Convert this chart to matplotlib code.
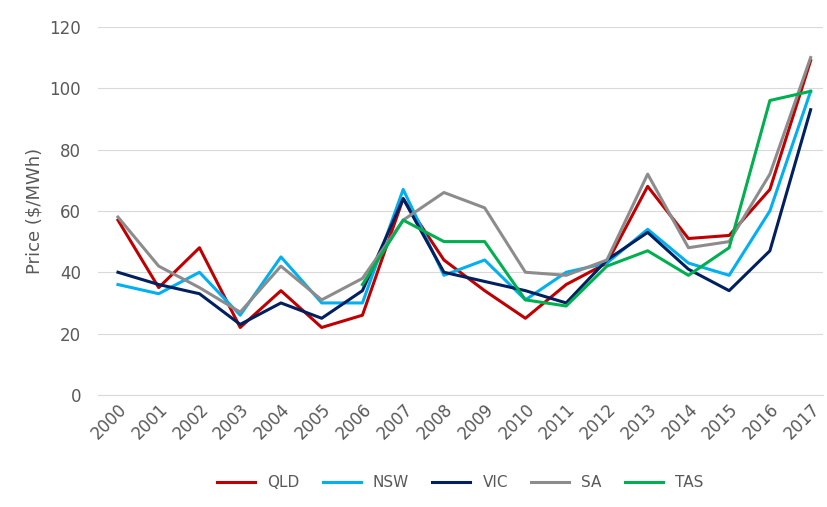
import matplotlib.pyplot as plt
import numpy as np

years = list(range(2000, 2018))
qld = [57, 35, 48, 22, 34, 22, 26, 64, 44, 34, 25, 36, 43, 68, 51, 52, 67, 109]
nsw = [36, 33, 40, 26, 45, 30, 30, 67, 39, 44, 31, 40, 43, 54, 43, 39, 60, 99]
vic = [40, 36, 33, 23, 30, 25, 34, 64, 40, 37, 34, 30, 44, 53, 41, 34, 47, 93]
sa = [58, 42, 35, 27, 42, 31, 38, 57, 66, 61, 40, 39, 44, 72, 48, 50, 72, 110]
tas_years = list(range(2006, 2018))
tas = [36, 57, 50, 50, 31, 29, 42, 47, 39, 48, 96, 99]

fig, ax = plt.subplots(figsize=(8.27, 5.07), dpi=100)
fig.subplots_adjust(left=0.118, right=0.995, top=0.947, bottom=0.221)

ax.plot(years, qld, color='#c00000', lw=2.2, label='QLD')
ax.plot(years, nsw, color='#00b0f0', lw=2.2, label='NSW')
ax.plot(years, vic, color='#002060', lw=2.2, label='VIC')
ax.plot(years, sa, color='#8c8c8c', lw=2.2, label='SA')
ax.plot(tas_years, tas, color='#00b050', lw=2.2, label='TAS')

ax.set_ylim(0, 120)
ax.set_yticks(range(0, 121, 20))
ax.set_xlim(1999.5, 2017.3)
ax.set_xticks(years)
ax.set_xticklabels([str(y) for y in years], rotation=45, ha='right', rotation_mode='anchor')
ax.grid(axis='y', color='#d9d9d9', lw=0.8)
ax.set_axisbelow(True)
for s in ['top', 'right', 'left']:
    ax.spines[s].set_visible(False)
ax.spines['bottom'].set_color('#d9d9d9')
ax.tick_params(length=0, labelsize=12, colors='#595959')
ax.tick_params(axis='y', pad=12)
ax.set_ylabel('Price ($/MWh)', fontsize=13, color='#595959')

ax.legend(loc='upper center', bbox_to_anchor=(0.5, -0.18), ncol=5, frameon=False,
          fontsize=11, handlelength=2.5, columnspacing=1.5, labelcolor='#595959')

plt.savefig('out.png')
